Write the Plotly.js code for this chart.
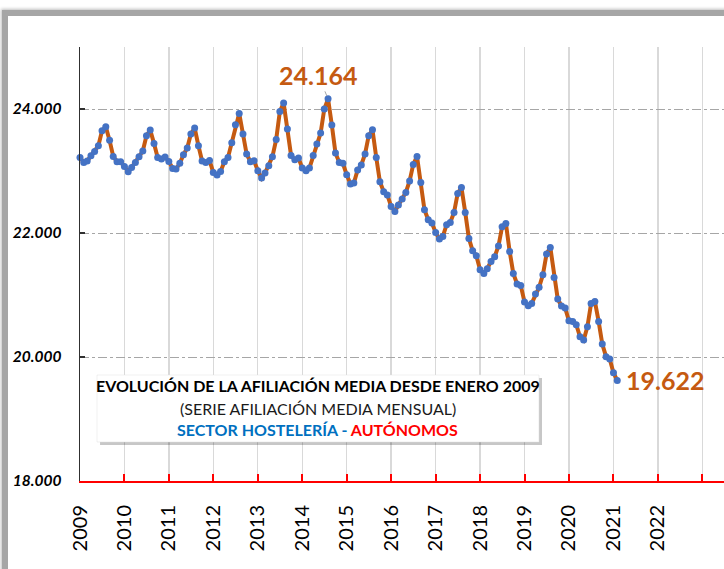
<!DOCTYPE html>
<html>
<head>
<meta charset="utf-8">
<script src="https://cdn.plot.ly/plotly-3.0.1.min.js"></script>
<style>
  html, body { margin: 0; padding: 0; background: #ffffff; width: 724px; height: 569px; overflow: hidden; }
  #frame { position: absolute; left: 2px; top: 10px; width: 760px; height: 600px;
           border-top: 6px solid #a6a6a6; border-left: 6px solid #a6a6a6;
           box-shadow: -1px -1px 3px rgba(0,0,0,0.25); }
  #chart { position: absolute; left: 0; top: 0; width: 724px; height: 569px; }
</style>
</head>
<body>
<div id="frame"></div>
<div id="chart"></div>
<script>
// Monthly average affiliation, self-employed, hospitality sector (Jan 2009 - Feb 2021)
const years = [2009, 2010, 2011, 2012, 2013, 2014, 2015, 2016, 2017, 2018, 2019, 2020, 2021];
const v2009 = [23219, 23139, 23161, 23247, 23316, 23408, 23650, 23715, 23494, 23235, 23150, 23150];
const v2010 = [23074, 22989, 23058, 23139, 23231, 23322, 23569, 23661, 23445, 23219, 23194, 23226];
const v2011 = [23155, 23042, 23032, 23123, 23263, 23371, 23597, 23694, 23408, 23161, 23139, 23171];
const v2012 = [22977, 22935, 22993, 23150, 23219, 23456, 23747, 23929, 23597, 23274, 23150, 23166];
const v2013 = [23005, 22887, 22968, 23085, 23231, 23510, 23961, 24097, 23677, 23252, 23182, 23210];
const v2014 = [23048, 23005, 23048, 23252, 23435, 23613, 24000, 24164, 23742, 23290, 23139, 23123];
const v2015 = [22940, 22790, 22806, 23016, 23097, 23274, 23569, 23666, 23219, 22827, 22666, 22613];
const v2016 = [22429, 22348, 22451, 22548, 22655, 22839, 23106, 23235, 22816, 22376, 22214, 22161];
const v2017 = [22010, 21903, 21945, 22134, 22171, 22332, 22639, 22735, 22332, 21913, 21714, 21634];
const v2018 = [21408, 21348, 21424, 21542, 21618, 21790, 22101, 22155, 21703, 21348, 21177, 21155];
const v2019 = [20887, 20827, 20864, 21016, 21123, 21327, 21661, 21768, 21284, 20935, 20822, 20790];
const v2020 = [20585, 20574, 20521, 20327, 20274, 20489, 20864, 20897, 20574, 20210, 20005, 19968];
const v2021 = [19747, 19622];

const yearTicks = ['2009','2010','2011','2012','2013','2014','2015','2016','2017','2018','2019','2020','2021','2022',''];
const yTicks = [18000, 20000, 22000, 24000];

const titleLine1 = 'EVOLUCIÓN DE LA AFILIACIÓN MEDIA DESDE ENERO 2009';
const titleLine2 = '(SERIE AFILIACIÓN MEDIA MENSUAL)';
const titleSector = 'SECTOR HOSTELERÍA';
const titleRegime = 'AUTÓNOMOS';

// build series
const series = [v2009, v2010, v2011, v2012, v2013, v2014, v2015, v2016, v2017, v2018, v2019, v2020, v2021];
const x = [], y = [];
series.forEach((arr, k) => {
  arr.forEach((v, m) => {
    x.push(years[k] + '-' + String(m + 1).padStart(2, '0') + '-01');
    y.push(v);
  });
});
const tickDates = yearTicks.map((t, i) => (2009 + i) + '-01-01');

// max and last
let iMax = 0;
y.forEach((v, i) => { if (v > y[iMax]) iMax = i; });
const iLast = y.length - 1;
const fmt = v => v.toLocaleString('de-DE');

const FONT = 'Lato, "Liberation Sans", Arial, sans-serif';
const ORANGE = '#C55A11';

const trace = {
  x: x, y: y, type: 'scatter', mode: 'lines+markers',
  line: { color: ORANGE, width: 4 },
  marker: { color: '#4472C4', size: 7 },
  hoverinfo: 'skip', showlegend: false, cliponaxis: false
};

const layout = {
  width: 724, height: 569,
  margin: { l: 80, r: 0, t: 47, b: 88 },
  paper_bgcolor: 'rgba(0,0,0,0)', plot_bgcolor: 'rgba(0,0,0,0)',
  font: { family: FONT, color: '#000' },
  separators: ',.',
  showlegend: false,
  xaxis: {
    type: 'date',
    range: ['2009-01-01', '2023-06-28'],
    tickmode: 'array', tickvals: tickDates, ticktext: yearTicks,
    tickangle: -90,
    tickfont: { family: FONT, size: 20, color: '#000' },
    ticks: 'inside', ticklen: 7, tickwidth: 2, tickcolor: '#ff0000',
    showline: true, linecolor: '#ff0000', linewidth: 2,
    showgrid: true, gridcolor: '#d9d9d9', gridwidth: 1.3,
    zeroline: false, fixedrange: true,
    ticklabelstandoff: 14
  },
  yaxis: {
    range: [18000, 25000],
    tickmode: 'array', tickvals: yTicks, ticktext: yTicks.map(fmt),
    tickfont: { family: FONT, size: 15.5, color: '#000', weight: 'bold', style: 'italic' },
    ticks: 'inside', ticklen: 5, tickwidth: 1.5, tickcolor: '#303030',
    showline: true, linecolor: '#303030', linewidth: 1.5,
    showgrid: true, gridcolor: '#a6a6a6', gridwidth: 1, griddash: 'dashdot',
    zeroline: false, fixedrange: true,
    ticklabelstandoff: 14
  },
  shapes: [
    { type: 'rect', xref: 'paper', yref: 'paper', layer: 'above',
      x0: 0.0311, x1: 0.7174, y0: 0.083, y1: 0.2373,
      fillcolor: 'rgba(0,0,0,0.22)', line: { width: 0 } },
    { type: 'rect', xref: 'paper', yref: 'paper', layer: 'above',
      x0: 0.0264, x1: 0.7127, y0: 0.0899, y1: 0.2442,
      fillcolor: '#ffffff', line: { color: '#e0e0e0', width: 0.5 } }
  ],
  annotations: [
    { x: x[iMax], y: y[iMax], xref: 'x', yref: 'y',
      text: '<b>' + fmt(y[iMax]) + '</b>',
      font: { family: FONT, size: 25, color: ORANGE },
      showarrow: true, arrowhead: 0, arrowwidth: 1, arrowcolor: '#a6a6a6',
      ax: -10, ay: -24, standoff: 3 },
    { x: x[iLast], y: y[iLast], xref: 'x', yref: 'y',
      text: '<b>' + fmt(y[iLast]) + '</b>',
      font: { family: FONT, size: 25, color: ORANGE },
      showarrow: false, xanchor: 'left', yanchor: 'middle', xshift: 7 },
    { x: 0.3688, y: 0.2196, xref: 'paper', yref: 'paper', xanchor: 'center', yanchor: 'middle',
      text: '<b>' + titleLine1 + '</b>', showarrow: false,
      font: { family: FONT, size: 16, color: '#000' } },
    { x: 0.3688, y: 0.1682, xref: 'paper', yref: 'paper', xanchor: 'center', yanchor: 'middle',
      text: titleLine2, showarrow: false,
      font: { family: FONT, size: 16, color: '#1a1a1a' } },
    { x: 0.3688, y: 0.1198, xref: 'paper', yref: 'paper', xanchor: 'center', yanchor: 'middle',
      text: '<b><span style="color:#0070C0">' + titleSector + '</span> <span style="color:#0070C0">-</span> <span style="color:#FF0000">' + titleRegime + '</span></b>',
      showarrow: false,
      font: { family: FONT, size: 16, color: '#0070C0' } }
  ]
};

Plotly.newPlot('chart', [trace], layout, { displayModeBar: false, staticPlot: true });
</script>
</body>
</html>
